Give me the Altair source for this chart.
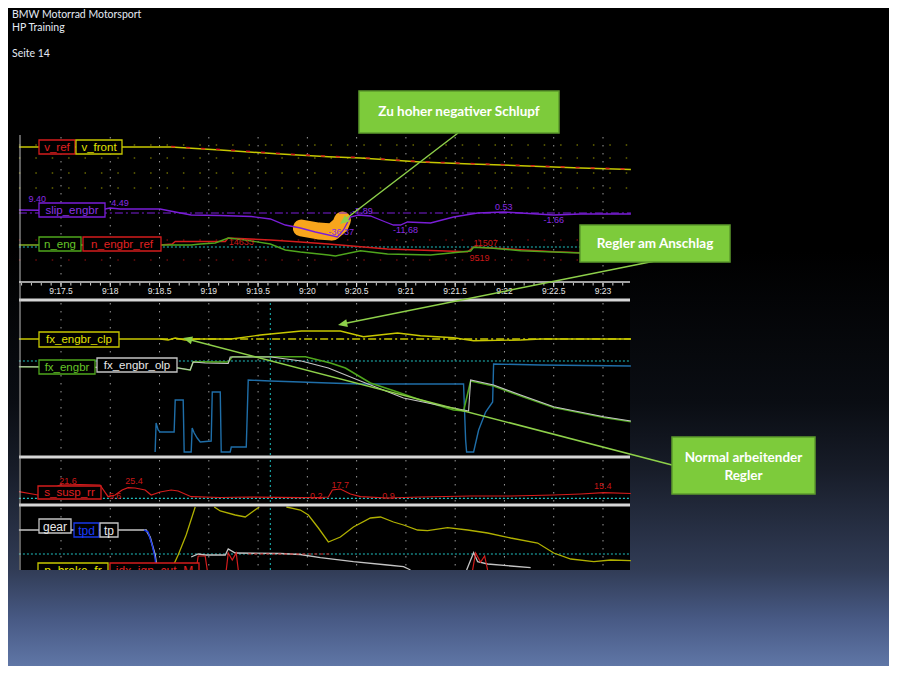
import altair as alt
import pandas as pd

OFF = 8          # page margin: reference pixel -> chart pixel
W, H = 881, 658

# ================= time axis =================
TIME_TICKS = [17.5, 18.0, 18.5, 19.0, 19.5, 20.0, 20.5, 21.0, 21.5, 22.0, 22.5, 23.0]
TIME_LABELS = ["9:17.5", "9:18", "9:18.5", "9:19", "9:19.5", "9:20", "9:20.5",
               "9:21", "9:21.5", "9:22", "9:22.5", "9:23"]
MINOR_TICKS = [round(17.1 + 0.1 * i, 1) for i in range(62)]
CURSOR_T = [19.624]

# ================= panel 1 (speed / slip / rpm) =================
V_FRONT_T = [17.073, 18.618, 19.116, 19.726, 20.213, 20.539, 21.148, 21.657, 22.165, 22.774, 23.283]
V_FRONT = [138, 138, 135, 131, 128.3, 127, 123, 121, 119.3, 117, 115.5]
V_REF_T = [18.618, 19.116, 19.726, 20.213, 20.539, 21.148, 21.657, 22.165, 22.774, 23.283]
V_REF = [138.4, 135.4, 131.4, 128.7, 127.4, 123.4, 121.4, 119.7, 117.4, 115.9]

SLIP_T = [17.073, 17.49, 17.896, 17.998, 18.100, 18.506, 18.659, 18.821, 19.116, 19.431,
          19.624, 19.776, 19.929, 20.081, 20.305, 20.366, 20.437, 20.518, 20.640, 20.793,
          20.874, 20.945, 21.016, 21.250, 21.484, 21.728, 21.992, 22.165, 22.5, 22.774, 23.283]
SLIP = [75, 74.5, 75, 77, 76, 76, 73, 70, 69.5, 68.5, 66, 60, 57, 53, 48, 55, 68, 70, 69, 63,
        60, 60, 63, 62, 68, 72, 73, 72, 70, 71, 71]
SLIP_ZERO = [72]

N_ENG_T = [17.073, 18.506, 18.821, 18.913, 19.065, 19.197, 19.370, 19.624, 19.776, 19.929, 20.213,
           20.285, 20.539, 20.813, 21.250, 21.657, 21.687, 21.860, 22.165, 22.774, 23.283]
N_ENG = [40, 40, 40, 41, 42, 47, 45, 41, 35, 33, 30, 29, 34.3, 31, 30, 34, 37.7, 37, 34.3, 32, 31]
N_REF_T = [17.073, 18.506, 18.628, 18.659, 19.167, 19.197, 19.624, 19.929, 20.213, 20.813, 21.626,
           21.687, 21.961, 22.5, 22.774, 23.283]
N_REF = [40, 40, 41, 43.5, 43.5, 47, 45, 43, 41, 36, 33.3, 38, 36.5, 33.3, 32.3, 32]
P1_ROWS_YELLOW = [140, 127, 112, 97]
P1_ROWS_RED = [45, 25]
P1_CYAN = [38]

BLOB_T = [19.939, 20.112, 20.254, 20.335, 20.356]
BLOB = [57, 54, 53, 60, 65]

P1_VALUE_T = [18.100, 17.26, 20.345, 20.559, 20.996, 21.992, 22.5, 21.809, 21.748, 19.329]
P1_VALUE_V = [82, 86, 53, 74.3, 55, 78.3, 65, 41.7, 26.7, 43.3]
P1_VALUE_TXT = ["4.49", "9.40", "-36.37", "-7.89", "-11.68", "0.53", "-1.66", "11507", "9519", "14633"]
P1_VALUE_KIND = ["slip", "slip", "slip", "slip", "slip", "slip", "slip", "rpm", "rpm", "rpm"]

# ================= panel 2 (controller) =================
CLP_T = [17.073, 18.506, 18.587, 18.659, 18.760, 18.862, 19.228, 19.522, 19.939, 20.335, 20.569,
         20.915, 21.148, 21.484, 21.687, 22.165, 22.368, 23.283]
CLP = [116, 116, 115, 117, 115, 116, 116, 120, 124, 124, 118.3, 122, 119.3, 117.3, 114.3, 115, 116, 116]
CLP_REF = [116]
P2_CYAN = [94]

OLP_T = [17.073, 18.689, 18.811, 18.841, 18.963, 19.197, 19.217, 19.634, 19.939, 20.213, 20.539,
         20.976, 21.321, 21.585, 21.636, 21.657, 21.890, 22.165, 22.5, 23.008, 23.283]
OLP = [88.3, 87, 85, 93, 92, 91.5, 98, 98, 94, 87, 74, 57, 50, 45, 44, 75, 70, 60, 48.3, 38.3, 34]
FX_T = [17.073, 18.689, 18.811, 18.841, 19.197, 19.238, 19.980, 20.112, 20.234, 20.386, 20.640,
        20.915, 21.148, 21.484, 21.585, 21.657, 21.890, 22.165, 22.5, 23.008, 23.283]
FX = [88.3, 87, 85, 93.3, 93, 98.3, 98.3, 95, 92, 87, 72, 63, 55, 45, 44, 74, 69, 59, 47.5, 37.5, 33.3]

BLUE_T = [18.455, 18.465, 18.486, 18.506, 18.648, 18.659, 18.740, 18.750, 18.821, 18.831, 18.852,
          18.882, 18.913, 19.024, 19.035, 19.116, 19.126, 19.217, 19.228, 19.380, 19.400, 19.624,
          19.929, 20.213, 20.539, 21.148, 21.585, 21.606, 21.616, 21.687, 21.738, 21.809, 21.880,
          21.890, 22.368, 23.283]
BLUE = [3, 32, 25, 23, 23, 55, 55, 3, 3, 27, 22, 17, 13, 14, 63, 63, 3, 3, 8, 8, 75, 74, 73, 72,
        71, 71, 71, 15, 3, 3, 25, 43, 53, 91, 90, 89]

# ================= panel 3 (suspension) =================
SUSP_T = [17.073, 17.266, 17.490, 17.693, 17.896, 17.978, 18.049, 18.120, 18.181, 18.252, 18.354,
          18.415, 18.506, 18.618, 18.689, 18.821, 19.116, 19.421, 19.929, 20.132, 20.213, 20.254,
          20.335, 20.437, 20.539, 20.813, 21.148, 21.657, 22.063, 22.5, 22.774, 23.008, 23.283]
SUSP = [11.3, 8, 18, 18.5, 18, 6.3, 8, 13, 15.3, 15, 13, 8, 11, 13, 12, 6.3, 5.5, 6, 5.3, 5.5, 6,
        13, 14, 9, 6.3, 5, 6, 7, 7, 8, 9, 10.3, 9.5]
P3_CYAN = [4.7]
SUSP_VALUE_T = [17.571, 18.049, 18.242, 20.091, 20.335, 20.823, 22.998]
SUSP_VALUE_V = [22, 7, 22, 7, 18, 7, 17]
SUSP_VALUE_TXT = ["21.6", "5.6", "25.4", "0.2", "17.7", "0.9", "15.4"]

# ================= panel 4 (gear / throttle / brake) =================
GEAR_T = [17.073, 18.364, 18.404, 18.455, 18.476]
GEAR = [40, 40, 33, 15, 0]
TPD_T = [18.343, 18.384, 18.425, 18.455, 18.465]
TPD = [40, 38, 25, 12, 0]
BRAKE_SEGS = [
    ([18.618, 18.689, 18.770, 18.862], [0, 15, 35, 63]),
    ([19.055, 19.116, 19.268, 19.370, 19.482, 19.512], [63, 59, 55, 53, 61, 63]),
    ([19.787, 19.929, 20.010, 20.112, 20.213, 20.335, 20.467, 20.640, 20.742, 20.874, 20.976,
      21.118, 21.220, 21.423, 21.626, 21.829, 22.063, 22.337, 22.5, 22.673, 22.907, 23.079, 23.283],
     [63, 60, 55, 42, 28, 33, 43, 52, 53, 48, 45, 40, 39.3, 42.3, 40, 37, 32, 27, 17, 11, 8.3, 10, 9.3]),
]
TP_SEGS = [
    ([18.821, 18.892, 18.963, 19.167, 19.197, 19.268, 19.726, 19.929, 20.132, 20.467, 20.813,
      20.976, 21.047], [13, 16, 15, 15, 21, 17, 16.5, 15.5, 12.3, 8.3, 5, 3.3, 0]),
    ([21.616, 21.687, 21.728, 21.829, 22.063, 22.266], [0, 17.3, 8.3, 6, 4, 2.3]),
]
IGN_SEGS = [
    ([18.872, 18.892, 18.963, 18.984], [0, 14, 14, 0]),
    ([19.177, 19.197, 19.238, 19.278, 19.299], [0, 17, 10, 17, 0]),
    ([21.677, 21.707, 21.758, 21.799, 21.829], [0, 17, 8, 14, 0]),
]
IGN_FLAT_T = [19.400, 20.234]
IGN_FLAT = [16, 16]
P4_CYAN = [16]

# ================= colours =================
YEL, RED, PUR, GRN = "#c8c800", "#d41c1c", "#7a1ed8", "#4fa61c"
WHT, BLU, TPDC, CYA = "#c4c4c4", "#1f6ea8", "#1838e8", "#1fbfbf"

# ================= scales =================
XS = alt.Scale(domain=[17.5, 23.0], range=[61 - OFF, 603 - OFF], nice=False, zero=False)
PANEL = {
    1: (alt.Scale(domain=[0, 150], range=[285 - OFF, 135 - OFF], nice=False, zero=False), 137, 281),
    2: (alt.Scale(domain=[0, 153], range=[455 - OFF, 302 - OFF], nice=False, zero=False), 303, 455),
    3: (alt.Scale(domain=[0, 44], range=[503 - OFF, 459 - OFF], nice=False, zero=False), 460, 503),
    4: (alt.Scale(domain=[0, 63], range=[570 - OFF, 507 - OFF], nice=False, zero=False), 508, 570),
}
X0_T, X1_T = 17.073, 23.283

ONE = pd.DataFrame({"k": [0]})


def P(v):
    return v - OFF


def vrect(x0, x1, y0, y1, **mk):
    return alt.Chart(ONE).mark_rect(**mk).encode(
        x=alt.value(P(x0)), x2=alt.value(P(x1)), y=alt.value(P(y0)), y2=alt.value(P(y1)))


def vtext(txt, x, y, **mk):
    return alt.Chart(ONE).mark_text(text=txt, **mk).encode(x=alt.value(P(x)), y=alt.value(P(y)))


def vline(x0, y0, x1, y1, **mk):
    return alt.Chart(ONE).mark_rule(**mk).encode(
        x=alt.value(P(x0)), y=alt.value(P(y0)), x2=alt.value(P(x1)), y2=alt.value(P(y1)))


def line(t, v, panel, color, width=1.2, dash=None, **extra):
    df = pd.DataFrame({"t": t, "v": v, "i": range(len(t))})
    kw = dict(color=color, strokeWidth=width, **extra)
    if dash:
        kw["strokeDash"] = dash
    return alt.Chart(df).mark_line(**kw).encode(
        x=alt.X("t:Q", scale=XS, axis=None),
        y=alt.Y("v:Q", scale=PANEL[panel][0], axis=None),
        order="i:Q")


def segs(seglist, panel, color, width=1.2):
    rows = []
    for s, (ts, vs) in enumerate(seglist):
        for i, (t, v) in enumerate(zip(ts, vs)):
            rows.append({"t": t, "v": v, "s": s, "i": i})
    df = pd.DataFrame(rows)
    return alt.Chart(df).mark_line(color=color, strokeWidth=width).encode(
        x=alt.X("t:Q", scale=XS, axis=None),
        y=alt.Y("v:Q", scale=PANEL[panel][0], axis=None),
        detail="s:N", order="i:Q")


def hrows(levels, panel, color, dash, t0=X0_T, t1=X1_T, width=1):
    df = pd.DataFrame({"v": levels, "a": t0, "b": t1})
    return alt.Chart(df).mark_rule(color=color, strokeDash=dash, strokeWidth=width).encode(
        x=alt.X("a:Q", scale=XS, axis=None), x2="b:Q",
        y=alt.Y("v:Q", scale=PANEL[panel][0], axis=None))


def vgrid(ts, y0, y1, color, dash):
    df = pd.DataFrame({"t": ts})
    return alt.Chart(df).mark_rule(color=color, strokeDash=dash, strokeWidth=1).encode(
        x=alt.X("t:Q", scale=XS, axis=None), y=alt.value(P(y0)), y2=alt.value(P(y1)))


def tag(txt, color, x0, x1, y0, y1, tcolor=None, size=11.5):
    return [
        vrect(x0, x1, y0, y1, fill="#000000", stroke=color, strokeWidth=1.3),
        vtext(txt, (x0 + x1) / 2, (y0 + y1) / 2 + 0.5, color=tcolor or color, fontSize=size,
              font="Liberation Sans", align="center", baseline="middle"),
    ]


def values(ts, vs, txts, panel, color, size=9):
    df = pd.DataFrame({"t": ts, "v": vs, "txt": txts})
    return alt.Chart(df).mark_text(color=color, fontSize=size, font="Liberation Sans",
                                   align="center", baseline="middle").encode(
        x=alt.X("t:Q", scale=XS, axis=None),
        y=alt.Y("v:Q", scale=PANEL[panel][0], axis=None), text="txt:N")


def arrow_head(x, y, angle, color):
    return alt.Chart(ONE).mark_point(shape="M0,0 L-0.5,1.15 L0.5,1.15 Z", filled=True, color=color,
                                     size=260, angle=angle, opacity=1).encode(
        x=alt.value(P(x)), y=alt.value(P(y)))


layers = []

# ---------- slide background ----------
bg = alt.LinearGradient(gradient="linear", x1=0, x2=0, y1=0, y2=1, stops=[
    alt.GradientStop(offset=0, color="#000000"),
    alt.GradientStop(offset=0.37, color="#000000"),
    alt.GradientStop(offset=0.60, color="#0a0d13"),
    alt.GradientStop(offset=0.70, color="#171c28"),
    alt.GradientStop(offset=0.854, color="#313c56"),
    alt.GradientStop(offset=0.93, color="#485a85"),
    alt.GradientStop(offset=1.0, color="#5f76a6"),
])
layers.append(alt.Chart(ONE).mark_rect(fill=bg).encode(
    x=alt.value(0), x2=alt.value(W), y=alt.value(0), y2=alt.value(H)))

# ---------- telemetry screenshot area ----------
layers.append(vrect(19, 630, 135, 570, fill="#000000"))

# gridlines
for p in (1, 2, 3, 4):
    _, top, bot = PANEL[p]
    layers.append(vgrid(TIME_TICKS, top, bot, "#9a9a9a", [1.5, 6.5]))
layers.append(hrows(P1_ROWS_YELLOW, 1, "#9a9a00", [1.5, 14.9]))
layers.append(hrows(P1_ROWS_RED, 1, "#a01010", [1.5, 14.9]))
for p in (2, 3, 4):
    _, top, bot = PANEL[p]
    layers.append(vgrid(CURSOR_T, top, bot, CYA, [2, 3]))

# orange highlight
layers.append(line(BLOB_T, BLOB, 1, "#f8a51c", width=17, strokeCap="round", strokeJoin="round"))

# panel 1 traces
layers.append(hrows(SLIP_ZERO, 1, PUR, [8, 3, 2, 3], width=1.2))
layers.append(hrows(P1_CYAN, 1, CYA, [2, 2], width=1.2))
layers.append(line(V_FRONT_T, V_FRONT, 1, YEL, width=1.5))
layers.append(line(V_REF_T, V_REF, 1, RED, width=1.5, dash=[4, 11]))
layers.append(line(SLIP_T, SLIP, 1, PUR, width=1.3))
layers.append(line(N_REF_T, N_REF, 1, RED, width=1.4))
layers.append(line(N_ENG_T, N_ENG, 1, GRN, width=1.4))

# panel 2 traces
layers.append(hrows(CLP_REF, 2, YEL, [8, 3, 2, 3], t0=18.506, width=1.3))
layers.append(hrows(P2_CYAN, 2, CYA, [2, 2], width=1.2))
layers.append(line(CLP_T, CLP, 2, YEL, width=1.4))
layers.append(line(BLUE_T, BLUE, 2, BLU, width=1.4))
layers.append(line(FX_T, FX, 2, GRN, width=1.6))
layers.append(line(OLP_T, OLP, 2, WHT, width=1.1))

# panel 3
layers.append(hrows(P3_CYAN, 3, CYA, [2, 2], width=1.2))
layers.append(line(SUSP_T, SUSP, 3, RED, width=1.2))

# panel 4
layers.append(hrows(P4_CYAN, 4, CYA, [2, 2], width=1.2))
layers.append(segs(BRAKE_SEGS, 4, "#b0b000", width=1.3))
layers.append(line(GEAR_T, GEAR, 4, WHT, width=1.6))
layers.append(line(TPD_T, TPD, 4, TPDC, width=1.4))
layers.append(segs(TP_SEGS, 4, WHT, width=1.3))
layers.append(segs(IGN_SEGS, 4, RED, width=1.2))
layers.append(line(IGN_FLAT_T, IGN_FLAT, 4, RED, width=1.2, dash=[3, 3]))

# separators & frame
layers.append(vrect(19, 630, 298.5, 301.5, fill="#d6d6d6"))
layers.append(vrect(19, 630, 455.5, 458.5, fill="#d6d6d6"))
layers.append(vrect(19, 630, 503.5, 506.5, fill="#d6d6d6"))
layers.append(vline(20, 135, 20, 570, color="#bdbdbd", strokeWidth=1))

# axis of panel 1
layers.append(vline(19, 282, 630, 282, color="#d8d8d8", strokeWidth=1.5))
layers.append(alt.Chart(pd.DataFrame({"t": MINOR_TICKS})).mark_rule(color="#cfcfcf").encode(
    x=alt.X("t:Q", scale=XS, axis=None), y=alt.value(P(283)), y2=alt.value(P(285.5))))
layers.append(alt.Chart(pd.DataFrame({"t": TIME_TICKS})).mark_rule(color="#e0e0e0").encode(
    x=alt.X("t:Q", scale=XS, axis=None), y=alt.value(P(283)), y2=alt.value(P(287))))
layers.append(alt.Chart(pd.DataFrame({"t": TIME_TICKS, "lab": TIME_LABELS})).mark_text(
    color="#e6e6e6", fontSize=8.5, font="Liberation Sans", align="center", baseline="middle").encode(
    x=alt.X("t:Q", scale=XS, axis=None), y=alt.value(P(291)), text="lab:N"))

# value labels
pv = pd.DataFrame({"t": P1_VALUE_T, "v": P1_VALUE_V, "txt": P1_VALUE_TXT, "k": P1_VALUE_KIND})
layers.append(values(list(pv[pv.k == "slip"].t), list(pv[pv.k == "slip"].v),
                     list(pv[pv.k == "slip"].txt), 1, "#8a2be2"))
layers.append(values(list(pv[pv.k == "rpm"].t), list(pv[pv.k == "rpm"].v),
                     list(pv[pv.k == "rpm"].txt), 1, "#c81818"))
layers.append(values(SUSP_VALUE_T, SUSP_VALUE_V, SUSP_VALUE_TXT, 3, "#c81818"))

# channel tags
layers += tag("v_ref", RED, 39, 75, 140, 154, "#e02020")
layers += tag("v_front", YEL, 76, 122, 140, 154, "#e0e000")
layers += tag("slip_engbr", PUR, 39, 105, 203, 217, "#8a32e6")
layers += tag("n_eng", GRN, 39, 81, 237, 251, "#66c428")
layers += tag("n_engbr_ref", RED, 83, 161, 237, 251, "#e02020")
layers += tag("fx_engbr_clp", YEL, 39, 119, 332, 347, "#e0e000")
layers += tag("fx_engbr", GRN, 39, 95, 360, 374, "#66c428")
layers += tag("fx_engbr_olp", WHT, 97, 177, 358, 372, "#e8e8e8")
layers += tag("s_susp_rr", RED, 38, 101, 486, 499, "#e02020")
layers += tag("gear", WHT, 39, 71, 519, 533, "#e8e8e8", size=12)
layers += tag("tpd", TPDC, 74, 99, 523, 537, "#1a3cff", size=12)
layers += tag("tp", WHT, 100, 118, 523, 537, "#e8e8e8", size=12)
layers += tag("p_brake_fr", YEL, 38, 108, 563, 578, "#e0e000", size=12)
layers += tag("idx_ign_cut_M", RED, 110, 199, 563, 578, "#e02020", size=12)

# slide background below the screenshot (cuts the last row)
strip = alt.LinearGradient(gradient="linear", x1=0, x2=0, y1=0, y2=1, stops=[
    alt.GradientStop(offset=0, color="#313c56"),
    alt.GradientStop(offset=0.52, color="#485a85"),
    alt.GradientStop(offset=1.0, color="#5f76a6"),
])
layers.append(alt.Chart(ONE).mark_rect(fill=strip).encode(
    x=alt.value(0), x2=alt.value(W), y=alt.value(P(570)), y2=alt.value(H)))

# ---------- callouts ----------
ARROW = "#8ed04a"
BOX_FILL, BOX_EDGE = "#7dcb3b", "#5c9a2c"
layers.append(vline(458, 133, 343, 221, color=ARROW, strokeWidth=1.5))
layers.append(arrow_head(340, 224, 232.4, ARROW))
layers.append(vline(655, 261, 342, 324, color=ARROW, strokeWidth=1.5))
layers.append(arrow_head(338, 325, 258.6, ARROW))
layers.append(vline(672, 465, 187, 339, color=ARROW, strokeWidth=1.5))
layers.append(arrow_head(183, 338, 284.6, ARROW))

for (x0, x1, y0, y1) in [(359, 559, 91, 133), (580, 730, 225, 262), (672, 815, 437, 494)]:
    layers.append(vrect(x0, x1, y0, y1, fill=BOX_FILL, stroke=BOX_EDGE, strokeWidth=1.5))
CALL = dict(color="#ffffff", fontSize=13.5, font="Lato", fontWeight="bold", align="center",
            baseline="middle")
layers.append(vtext("Zu hoher negativer Schlupf", 459, 112, **CALL))
layers.append(vtext("Regler am Anschlag", 655, 243.5, **CALL))
layers.append(vtext("Normal arbeitender", 743.5, 458, **CALL))
layers.append(vtext("Regler", 743.5, 475.5, **CALL))

# ---------- slide header ----------
HEAD = dict(color="#e4eaf4", fontSize=10.5, font="Lato", align="left", baseline="middle")
layers.append(vtext("BMW Motorrad Motorsport", 12, 15, **HEAD))
layers.append(vtext("HP Training", 12, 27.5, **HEAD))
layers.append(vtext("Seite 14", 12, 54, **HEAD))

chart = alt.layer(*layers).resolve_scale(y="independent").properties(
    width=W, height=H, padding=0, background="#000000",
    autosize=alt.AutoSizeParams(type="none")
).configure_view(stroke=None)

chart.save("out.html", embed_options={"renderer": "svg", "actions": False})
